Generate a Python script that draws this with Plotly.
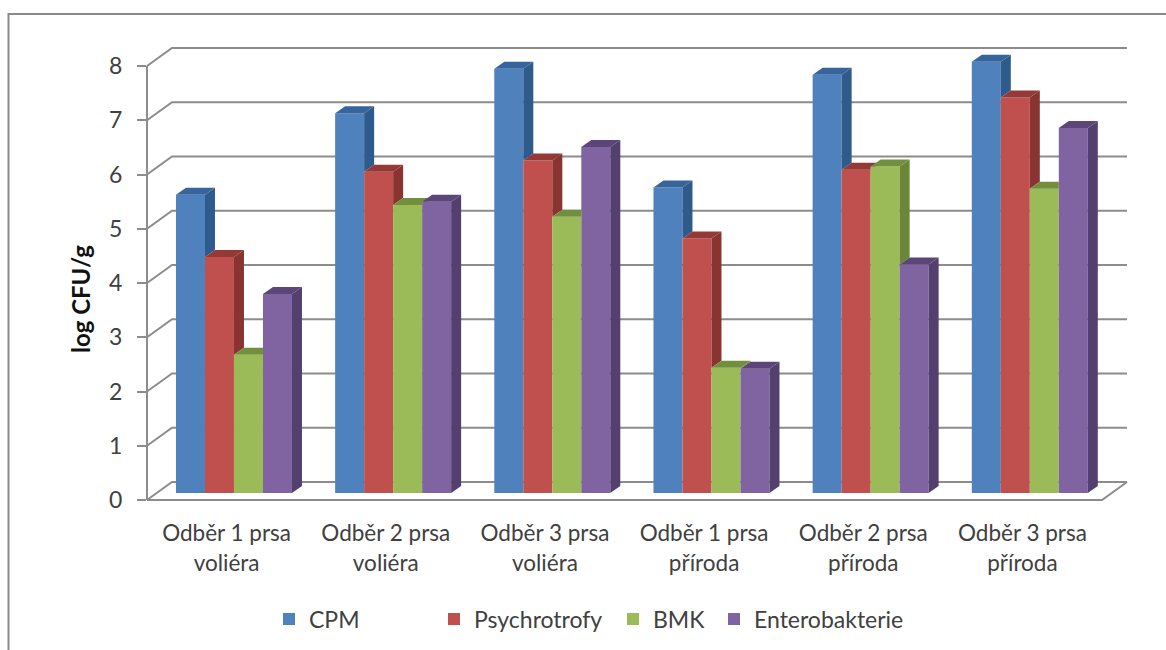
import plotly.graph_objects as go

# Chart data
line_one = ["Odběr 1 prsa", "Odběr 2 prsa", "Odběr 3 prsa", "Odběr 1 prsa", "Odběr 2 prsa", "Odběr 3 prsa"]
line_two = ["voliéra", "voliéra", "voliéra", "příroda", "příroda", "příroda"]
series_names = ["CPM", "Psychrotrofy", "BMK", "Enterobakterie"]
cpm = [5.50, 7.00, 7.82, 5.63, 7.71, 7.95]
psychrotrofy = [4.35, 5.92, 6.13, 4.69, 5.96, 7.29]
bmk = [2.55, 5.31, 5.09, 2.31, 6.02, 5.61]
enterobakterie = [3.67, 5.37, 6.38, 2.29, 4.21, 6.73]
y_ticks = [0, 1, 2, 3, 4, 5, 6, 7, 8]

series_values = [cpm, psychrotrofy, bmk, enterobakterie]
front_colors = ["#4F81BD", "#C0504D", "#9BBB59", "#8064A2"]
side_colors = ["#2F5A8C", "#8A3431", "#6B8539", "#54406F"]
top_colors = ["#37659B", "#943936", "#728F3D", "#5B4579"]

# Page and plot-area geometry in pixels
WIDTH, HEIGHT = 1166, 650
LEFT, RIGHT, TOP, BOTTOM = 147, 1127, 48, 500
BAND = (1102 - 147) / 6
UNIT = (500 - 66) / 8

# Oblique projection: wall depth and bar depth in axis units
WALL_DX, WALL_DY = 25 / BAND, 18 / UNIT
BAR_DX, BAR_DY = 10 / BAND, 7 / UNIT
LIFT = 7 / UNIT
BAR_W = 29 / BAND
GROUP_OFFSET = -0.318

X0, X1 = -0.5, 5.5 + WALL_DX
Y0, Y1 = 0, 8 + WALL_DY


def px(x):
    return (x - X0) / (X1 - X0)


def py(y):
    return (y - Y0) / (Y1 - Y0)


def polygon(points, color):
    xs, ys = zip(*(points + [points[0]]))
    return go.Scatter(x=xs, y=ys, mode="lines", fill="toself", fillcolor=color,
                      line=dict(width=0, color=color), hoverinfo="skip", showlegend=False)


fig = go.Figure()

# Front faces as real bars; each one stands slightly inside the floor
for s, (name, values) in enumerate(zip(series_names, series_values)):
    fig.add_trace(go.Bar(
        x=list(range(6)), y=values, base=LIFT, name=name,
        width=BAR_W, offset=GROUP_OFFSET + s * BAR_W,
        marker=dict(color=front_colors[s], line=dict(width=0)),
        legend="legend" if s == 0 else f"legend{s + 1}",
    ))

# Side and top faces, trimmed where the neighbouring bar hides them
for g in range(6):
    for s in range(4):
        xl = g + GROUP_OFFSET + s * BAR_W
        xr = xl + BAR_W
        h = LIFT + series_values[s][g]
        t = LIFT + series_values[s + 1][g] if s < 3 else LIFT
        if t < h:
            fig.add_trace(polygon([(xr, h), (xr + BAR_DX, h + BAR_DY),
                                   (xr + BAR_DX, t + BAR_DY), (xr, t)], side_colors[s]))
        if t >= h + BAR_DY:
            top = [(xl, h), (xr, h), (xr, h + BAR_DY), (xl + BAR_DX, h + BAR_DY)]
        elif t > h:
            top = [(xl, h), (xr, h), (xr, t),
                   (xr + BAR_DX * (t - h) / BAR_DY, t),
                   (xr + BAR_DX, h + BAR_DY), (xl + BAR_DX, h + BAR_DY)]
        else:
            top = [(xl, h), (xr, h), (xr + BAR_DX, h + BAR_DY), (xl + BAR_DX, h + BAR_DY)]
        fig.add_trace(polygon(top, top_colors[s]))

# Empty trace that brings the second category axis (second label line) into the plot
fig.add_trace(go.Scatter(x=[0], y=[0], xaxis="x2", yaxis="y", mode="markers",
                         marker=dict(opacity=0), hoverinfo="skip", showlegend=False))

# Back-wall gridlines, their slanted returns, the floor and the value axis
wall = []
for v in y_ticks:
    wall.append(f"M{px(X0)},{py(v)} L{px(X0 + WALL_DX)},{py(v + WALL_DY)} L{px(X1)},{py(v + WALL_DY)}")
wall.append(f"M{px(X0)},{py(0)} L{px(5.5)},{py(0)} L{px(X1)},{py(WALL_DY)}")
wall.append(f"M{px(X0)},{py(0)} L{px(X0)},{py(8)}")
shapes = [dict(type="path", xref="paper", yref="paper", layer="below", path=" ".join(wall),
               line=dict(color="#8C8C8C", width=2))]

# Thin frame around the chart, open on the right and at the bottom
pw, ph = RIGHT - LEFT, BOTTOM - TOP
fx = lambda p: (p - LEFT) / pw
fy = lambda p: (BOTTOM - p) / ph
shapes.append(dict(type="path", xref="paper", yref="paper", layer="below",
                   path=f"M{fx(8.5)},{fy(650)} L{fx(8.5)},{fy(14)} L{fx(1166)},{fy(14)}",
                   line=dict(color="#8A8A8A", width=2)))

FONT = "Lato, Carlito, sans-serif"
tick_font = dict(family=FONT, size=22.5, color="#404040")
layout = dict(
    width=WIDTH, height=HEIGHT,
    margin=dict(l=LEFT, r=WIDTH - RIGHT, t=TOP, b=HEIGHT - BOTTOM, pad=0, autoexpand=False),
    paper_bgcolor="white", plot_bgcolor="rgba(0,0,0,0)",
    barmode="overlay", shapes=shapes, hovermode=False,
    xaxis=dict(range=[X0, X1], tickvals=list(range(6)), ticktext=line_one,
               showgrid=False, zeroline=False, showline=False, ticks="",
               tickfont=tick_font, ticklabelstandoff=17, tickangle=0),
    xaxis2=dict(range=[X0, X1], tickvals=list(range(6)), ticktext=line_two, overlaying="x",
                anchor="y", side="bottom", showgrid=False, zeroline=False, showline=False,
                ticks="", tickfont=tick_font, ticklabelstandoff=47, tickangle=0),
    yaxis=dict(range=[Y0, Y1], tickvals=y_ticks, showgrid=False, zeroline=False, showline=False,
               ticks="outside", ticklen=9, tickwidth=2, tickcolor="#8C8C8C",
               tickfont=dict(family=FONT, size=23, color="#404040"),
               ticklabelstandoff=10),
    annotations=[dict(text="<b>log CFU/g</b>", textangle=-90, xref="paper", yref="paper",
                      x=fx(80), y=fy(299), xanchor="center", yanchor="middle", showarrow=False,
                      font=dict(family=FONT, size=24, color="#111111"))],
)

# One positioned legend per series so the entries keep their uneven spacing
legend_left = [269, 434, 613, 714]
legend_keys = ["legend", "legend2", "legend3", "legend4"]
for key, x_left in zip(legend_keys, legend_left):
    layout[key] = dict(x=fx(x_left), y=fy(619), xanchor="left", yanchor="middle",
                       orientation="h", bgcolor="rgba(0,0,0,0)", itemclick=False,
                       font=dict(family=FONT, size=23, color="#404040"))

fig.update_layout(**layout)
fig.write_html("out.html")
